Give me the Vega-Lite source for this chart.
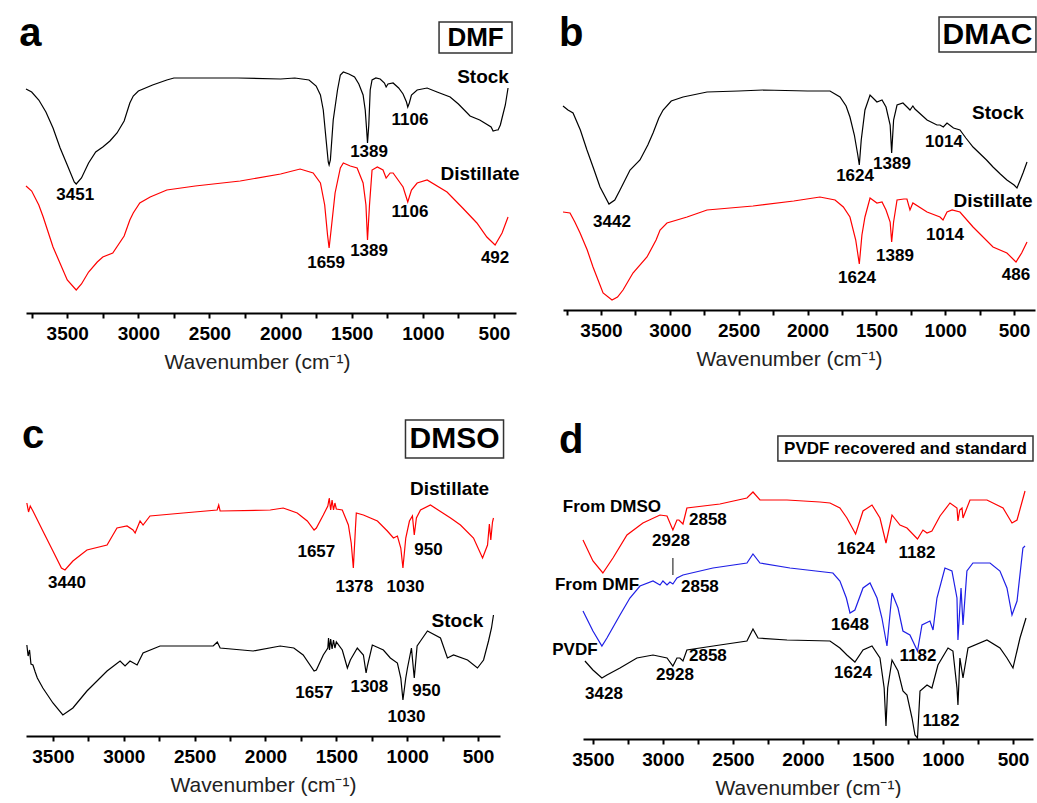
{
  "$schema": "https://vega.github.io/schema/vega-lite/v6.json",
  "padding": {"left": 19, "top": 10, "right": 0, "bottom": 0},
  "spacing": 36,
  "config": {
    "view": {"stroke": null},
    "font": "Liberation Sans",
    "axisX": {"grid": false, "domainColor": "#000", "domainWidth": 2, "tickColor": "#000", "tickWidth": 2, "tickSize": 5,
      "labelFont": "Liberation Sans", "labelFontSize": 19, "labelFontWeight": "bold", "labelColor": "#000", "labelPadding": 6,
      "labelOverlap": false, "labelFlush": false, "labelBound": false,
      "titleFont": "Liberation Sans", "titleFontSize": 21, "titleFontWeight": "normal", "titleColor": "#222", "titlePadding": 8},
    "text": {"font": "Liberation Sans", "fontWeight": "bold", "color": "#000", "baseline": "middle"},
    "line": {"strokeWidth": 1.2}
  },
  "datasets": {
    "a_spec": [
      {"s":"Stock","w":3790,"t":224},{"s":"Stock","w":3750,"t":221},{"s":"Stock","w":3700,"t":213},{"s":"Stock","w":3650,"t":201},{"s":"Stock","w":3600,"t":185},{"s":"Stock","w":3550,"t":165},{"s":"Stock","w":3500,"t":148},{"s":"Stock","w":3451,"t":131},{"s":"Stock","w":3437,"t":129},{"s":"Stock","w":3400,"t":135},{"s":"Stock","w":3350,"t":150},{"s":"Stock","w":3300,"t":161},{"s":"Stock","w":3250,"t":166},{"s":"Stock","w":3200,"t":172},{"s":"Stock","w":3150,"t":180},{"s":"Stock","w":3100,"t":192},{"s":"Stock","w":3060,"t":210},{"s":"Stock","w":3036,"t":217},{"s":"Stock","w":3000,"t":222},{"s":"Stock","w":2900,"t":228},{"s":"Stock","w":2800,"t":233},{"s":"Stock","w":2750,"t":235},{"s":"Stock","w":2500,"t":235},{"s":"Stock","w":2300,"t":235},{"s":"Stock","w":2000,"t":234},{"s":"Stock","w":1900,"t":235},{"s":"Stock","w":1800,"t":233},{"s":"Stock","w":1750,"t":227},{"s":"Stock","w":1720,"t":218},{"s":"Stock","w":1700,"t":203},{"s":"Stock","w":1680,"t":173},{"s":"Stock","w":1665,"t":151},{"s":"Stock","w":1659,"t":148},{"s":"Stock","w":1650,"t":153},{"s":"Stock","w":1630,"t":193},{"s":"Stock","w":1600,"t":223},{"s":"Stock","w":1580,"t":238},{"s":"Stock","w":1559,"t":241},{"s":"Stock","w":1520,"t":239},{"s":"Stock","w":1480,"t":236},{"s":"Stock","w":1450,"t":229},{"s":"Stock","w":1420,"t":218},{"s":"Stock","w":1405,"t":203},{"s":"Stock","w":1395,"t":183},{"s":"Stock","w":1389,"t":170},{"s":"Stock","w":1380,"t":188},{"s":"Stock","w":1370,"t":223},{"s":"Stock","w":1357,"t":233},{"s":"Stock","w":1330,"t":235},{"s":"Stock","w":1300,"t":234},{"s":"Stock","w":1270,"t":230},{"s":"Stock","w":1258,"t":226},{"s":"Stock","w":1245,"t":229},{"s":"Stock","w":1209,"t":230},{"s":"Stock","w":1170,"t":225},{"s":"Stock","w":1139,"t":219},{"s":"Stock","w":1115,"t":211},{"s":"Stock","w":1106,"t":206},{"s":"Stock","w":1095,"t":210},{"s":"Stock","w":1080,"t":218},{"s":"Stock","w":1040,"t":223},{"s":"Stock","w":970,"t":225},{"s":"Stock","w":900,"t":221},{"s":"Stock","w":808,"t":216},{"s":"Stock","w":750,"t":209},{"s":"Stock","w":668,"t":197},{"s":"Stock","w":600,"t":193},{"s":"Stock","w":577,"t":191},{"s":"Stock","w":520,"t":186},{"s":"Stock","w":506,"t":182},{"s":"Stock","w":480,"t":183},{"s":"Stock","w":471,"t":183},{"s":"Stock","w":455,"t":188},{"s":"Stock","w":443,"t":195},{"s":"Stock","w":420,"t":208},{"s":"Stock","w":401,"t":225},
      {"s":"Distillate","w":3790,"t":127},{"s":"Distillate","w":3750,"t":122},{"s":"Distillate","w":3700,"t":108},{"s":"Distillate","w":3669,"t":96},{"s":"Distillate","w":3600,"t":66},{"s":"Distillate","w":3500,"t":33},{"s":"Distillate","w":3437,"t":23},{"s":"Distillate","w":3400,"t":29},{"s":"Distillate","w":3350,"t":41},{"s":"Distillate","w":3289,"t":51},{"s":"Distillate","w":3250,"t":56},{"s":"Distillate","w":3180,"t":60},{"s":"Distillate","w":3100,"t":77},{"s":"Distillate","w":3060,"t":93},{"s":"Distillate","w":3036,"t":100},{"s":"Distillate","w":2990,"t":110},{"s":"Distillate","w":2917,"t":116},{"s":"Distillate","w":2800,"t":123},{"s":"Distillate","w":2600,"t":127},{"s":"Distillate","w":2284,"t":132},{"s":"Distillate","w":2000,"t":139},{"s":"Distillate","w":1863,"t":144},{"s":"Distillate","w":1771,"t":140},{"s":"Distillate","w":1720,"t":130},{"s":"Distillate","w":1690,"t":108},{"s":"Distillate","w":1670,"t":78},{"s":"Distillate","w":1659,"t":65},{"s":"Distillate","w":1645,"t":83},{"s":"Distillate","w":1617,"t":120},{"s":"Distillate","w":1580,"t":145},{"s":"Distillate","w":1559,"t":150},{"s":"Distillate","w":1510,"t":147},{"s":"Distillate","w":1462,"t":145},{"s":"Distillate","w":1420,"t":130},{"s":"Distillate","w":1400,"t":108},{"s":"Distillate","w":1389,"t":73},{"s":"Distillate","w":1375,"t":108},{"s":"Distillate","w":1357,"t":143},{"s":"Distillate","w":1320,"t":146},{"s":"Distillate","w":1280,"t":143},{"s":"Distillate","w":1258,"t":135},{"s":"Distillate","w":1230,"t":140},{"s":"Distillate","w":1209,"t":140},{"s":"Distillate","w":1139,"t":126},{"s":"Distillate","w":1106,"t":111},{"s":"Distillate","w":1080,"t":123},{"s":"Distillate","w":1040,"t":130},{"s":"Distillate","w":970,"t":133},{"s":"Distillate","w":830,"t":121},{"s":"Distillate","w":720,"t":105},{"s":"Distillate","w":620,"t":90},{"s":"Distillate","w":550,"t":76},{"s":"Distillate","w":492,"t":68},{"s":"Distillate","w":443,"t":80},{"s":"Distillate","w":401,"t":96}
    ],
    "b_spec": [
      {"s":"Stock","w":3776,"t":204},{"s":"Stock","w":3740,"t":200},{"s":"Stock","w":3703,"t":197},{"s":"Stock","w":3650,"t":180},{"s":"Stock","w":3602,"t":160},{"s":"Stock","w":3550,"t":140},{"s":"Stock","w":3507,"t":123},{"s":"Stock","w":3442,"t":106},{"s":"Stock","w":3400,"t":110},{"s":"Stock","w":3362,"t":120},{"s":"Stock","w":3289,"t":140},{"s":"Stock","w":3217,"t":150},{"s":"Stock","w":3160,"t":165},{"s":"Stock","w":3122,"t":177},{"s":"Stock","w":3080,"t":192},{"s":"Stock","w":3049,"t":200},{"s":"Stock","w":2990,"t":209},{"s":"Stock","w":2904,"t":213},{"s":"Stock","w":2730,"t":218},{"s":"Stock","w":2500,"t":219},{"s":"Stock","w":2324,"t":220},{"s":"Stock","w":2000,"t":219},{"s":"Stock","w":1837,"t":219},{"s":"Stock","w":1764,"t":213},{"s":"Stock","w":1720,"t":204},{"s":"Stock","w":1692,"t":193},{"s":"Stock","w":1660,"t":175},{"s":"Stock","w":1635,"t":155},{"s":"Stock","w":1624,"t":145},{"s":"Stock","w":1610,"t":170},{"s":"Stock","w":1583,"t":200},{"s":"Stock","w":1546,"t":215},{"s":"Stock","w":1510,"t":210},{"s":"Stock","w":1496,"t":208},{"s":"Stock","w":1459,"t":210},{"s":"Stock","w":1430,"t":203},{"s":"Stock","w":1400,"t":185},{"s":"Stock","w":1389,"t":157},{"s":"Stock","w":1375,"t":190},{"s":"Stock","w":1350,"t":205},{"s":"Stock","w":1307,"t":207},{"s":"Stock","w":1270,"t":202},{"s":"Stock","w":1256,"t":200},{"s":"Stock","w":1235,"t":204},{"s":"Stock","w":1220,"t":201},{"s":"Stock","w":1132,"t":190},{"s":"Stock","w":1060,"t":185},{"s":"Stock","w":1038,"t":185},{"s":"Stock","w":1014,"t":183},{"s":"Stock","w":987,"t":187},{"s":"Stock","w":940,"t":182},{"s":"Stock","w":893,"t":180},{"s":"Stock","w":850,"t":172},{"s":"Stock","w":798,"t":163},{"s":"Stock","w":700,"t":150},{"s":"Stock","w":653,"t":143},{"s":"Stock","w":600,"t":136},{"s":"Stock","w":552,"t":130},{"s":"Stock","w":500,"t":125},{"s":"Stock","w":479,"t":122},{"s":"Stock","w":455,"t":130},{"s":"Stock","w":435,"t":137},{"s":"Stock","w":406,"t":148},
      {"s":"Distillate","w":3776,"t":98},{"s":"Distillate","w":3725,"t":97},{"s":"Distillate","w":3690,"t":88},{"s":"Distillate","w":3652,"t":77},{"s":"Distillate","w":3600,"t":60},{"s":"Distillate","w":3558,"t":43},{"s":"Distillate","w":3485,"t":17},{"s":"Distillate","w":3420,"t":10},{"s":"Distillate","w":3380,"t":13},{"s":"Distillate","w":3340,"t":20},{"s":"Distillate","w":3268,"t":37},{"s":"Distillate","w":3166,"t":53},{"s":"Distillate","w":3100,"t":70},{"s":"Distillate","w":3071,"t":80},{"s":"Distillate","w":3021,"t":87},{"s":"Distillate","w":2875,"t":93},{"s":"Distillate","w":2730,"t":100},{"s":"Distillate","w":2396,"t":104},{"s":"Distillate","w":2100,"t":109},{"s":"Distillate","w":1910,"t":113},{"s":"Distillate","w":1800,"t":110},{"s":"Distillate","w":1740,"t":103},{"s":"Distillate","w":1692,"t":93},{"s":"Distillate","w":1650,"t":70},{"s":"Distillate","w":1624,"t":46},{"s":"Distillate","w":1605,"t":75},{"s":"Distillate","w":1583,"t":93},{"s":"Distillate","w":1546,"t":112},{"s":"Distillate","w":1496,"t":107},{"s":"Distillate","w":1459,"t":108},{"s":"Distillate","w":1430,"t":100},{"s":"Distillate","w":1400,"t":88},{"s":"Distillate","w":1389,"t":68},{"s":"Distillate","w":1375,"t":88},{"s":"Distillate","w":1350,"t":110},{"s":"Distillate","w":1300,"t":111},{"s":"Distillate","w":1278,"t":111},{"s":"Distillate","w":1256,"t":100},{"s":"Distillate","w":1235,"t":107},{"s":"Distillate","w":1132,"t":98},{"s":"Distillate","w":1038,"t":93},{"s":"Distillate","w":1016,"t":90},{"s":"Distillate","w":987,"t":98},{"s":"Distillate","w":950,"t":100},{"s":"Distillate","w":893,"t":98},{"s":"Distillate","w":798,"t":83},{"s":"Distillate","w":653,"t":63},{"s":"Distillate","w":552,"t":57},{"s":"Distillate","w":486,"t":48},{"s":"Distillate","w":445,"t":57},{"s":"Distillate","w":406,"t":68}
    ],
    "c_spec": [
      {"s":"Distillate","w":3684,"t":233},{"s":"Distillate","w":3672,"t":224},{"s":"Distillate","w":3660,"t":230},{"s":"Distillate","w":3641,"t":225},{"s":"Distillate","w":3571,"t":205},{"s":"Distillate","w":3500,"t":185},{"s":"Distillate","w":3440,"t":168},{"s":"Distillate","w":3415,"t":166},{"s":"Distillate","w":3359,"t":175},{"s":"Distillate","w":3260,"t":186},{"s":"Distillate","w":3118,"t":191},{"s":"Distillate","w":3048,"t":208},{"s":"Distillate","w":2977,"t":210},{"s":"Distillate","w":2935,"t":206},{"s":"Distillate","w":2920,"t":203},{"s":"Distillate","w":2885,"t":215},{"s":"Distillate","w":2864,"t":211},{"s":"Distillate","w":2815,"t":220},{"s":"Distillate","w":2581,"t":223},{"s":"Distillate","w":2341,"t":226},{"s":"Distillate","w":2330,"t":231},{"s":"Distillate","w":2320,"t":225},{"s":"Distillate","w":1966,"t":226},{"s":"Distillate","w":1875,"t":228},{"s":"Distillate","w":1776,"t":223},{"s":"Distillate","w":1705,"t":215},{"s":"Distillate","w":1657,"t":206},{"s":"Distillate","w":1641,"t":208},{"s":"Distillate","w":1592,"t":221},{"s":"Distillate","w":1560,"t":230},{"s":"Distillate","w":1550,"t":238},{"s":"Distillate","w":1540,"t":226},{"s":"Distillate","w":1530,"t":236},{"s":"Distillate","w":1520,"t":226},{"s":"Distillate","w":1510,"t":233},{"s":"Distillate","w":1500,"t":227},{"s":"Distillate","w":1458,"t":226},{"s":"Distillate","w":1415,"t":211},{"s":"Distillate","w":1395,"t":193},{"s":"Distillate","w":1380,"t":168},{"s":"Distillate","w":1365,"t":208},{"s":"Distillate","w":1359,"t":223},{"s":"Distillate","w":1309,"t":221},{"s":"Distillate","w":1210,"t":215},{"s":"Distillate","w":1140,"t":205},{"s":"Distillate","w":1097,"t":198},{"s":"Distillate","w":1069,"t":200},{"s":"Distillate","w":1045,"t":188},{"s":"Distillate","w":1030,"t":168},{"s":"Distillate","w":1010,"t":198},{"s":"Distillate","w":984,"t":215},{"s":"Distillate","w":963,"t":220},{"s":"Distillate","w":950,"t":201},{"s":"Distillate","w":935,"t":218},{"s":"Distillate","w":906,"t":226},{"s":"Distillate","w":836,"t":231},{"s":"Distillate","w":694,"t":218},{"s":"Distillate","w":624,"t":211},{"s":"Distillate","w":532,"t":198},{"s":"Distillate","w":468,"t":178},{"s":"Distillate","w":433,"t":191},{"s":"Distillate","w":420,"t":212},{"s":"Distillate","w":410,"t":196},{"s":"Distillate","w":398,"t":214},{"s":"Distillate","w":391,"t":218},
      {"s":"Stock","w":3684,"t":91},{"s":"Stock","w":3675,"t":80},{"s":"Stock","w":3665,"t":86},{"s":"Stock","w":3655,"t":72},{"s":"Stock","w":3641,"t":71},{"s":"Stock","w":3625,"t":64},{"s":"Stock","w":3610,"t":58},{"s":"Stock","w":3571,"t":48},{"s":"Stock","w":3500,"t":33},{"s":"Stock","w":3430,"t":21},{"s":"Stock","w":3359,"t":28},{"s":"Stock","w":3260,"t":45},{"s":"Stock","w":3118,"t":65},{"s":"Stock","w":3026,"t":75},{"s":"Stock","w":2991,"t":70},{"s":"Stock","w":2956,"t":75},{"s":"Stock","w":2906,"t":71},{"s":"Stock","w":2864,"t":83},{"s":"Stock","w":2744,"t":90},{"s":"Stock","w":2369,"t":90},{"s":"Stock","w":2340,"t":94},{"s":"Stock","w":2320,"t":88},{"s":"Stock","w":2087,"t":85},{"s":"Stock","w":1896,"t":90},{"s":"Stock","w":1800,"t":88},{"s":"Stock","w":1734,"t":81},{"s":"Stock","w":1657,"t":65},{"s":"Stock","w":1641,"t":66},{"s":"Stock","w":1592,"t":81},{"s":"Stock","w":1560,"t":88},{"s":"Stock","w":1555,"t":98},{"s":"Stock","w":1548,"t":86},{"s":"Stock","w":1540,"t":97},{"s":"Stock","w":1530,"t":87},{"s":"Stock","w":1520,"t":96},{"s":"Stock","w":1510,"t":88},{"s":"Stock","w":1500,"t":94},{"s":"Stock","w":1458,"t":86},{"s":"Stock","w":1422,"t":68},{"s":"Stock","w":1401,"t":76},{"s":"Stock","w":1352,"t":88},{"s":"Stock","w":1309,"t":81},{"s":"Stock","w":1290,"t":63},{"s":"Stock","w":1281,"t":70},{"s":"Stock","w":1246,"t":91},{"s":"Stock","w":1168,"t":86},{"s":"Stock","w":1119,"t":78},{"s":"Stock","w":1069,"t":73},{"s":"Stock","w":1045,"t":58},{"s":"Stock","w":1030,"t":36},{"s":"Stock","w":1010,"t":58},{"s":"Stock","w":998,"t":68},{"s":"Stock","w":970,"t":88},{"s":"Stock","w":950,"t":58},{"s":"Stock","w":930,"t":90},{"s":"Stock","w":906,"t":95},{"s":"Stock","w":857,"t":105},{"s":"Stock","w":765,"t":98},{"s":"Stock","w":716,"t":78},{"s":"Stock","w":673,"t":81},{"s":"Stock","w":574,"t":76},{"s":"Stock","w":504,"t":68},{"s":"Stock","w":461,"t":76},{"s":"Stock","w":426,"t":95},{"s":"Stock","w":405,"t":108},{"s":"Stock","w":391,"t":121}
    ],
    "d_spec": [
      {"s":"From DMSO","w":3571,"t":199},{"s":"From DMSO","w":3500,"t":178},{"s":"From DMSO","w":3429,"t":166},{"s":"From DMSO","w":3357,"t":181},{"s":"From DMSO","w":3257,"t":204},{"s":"From DMSO","w":3143,"t":216},{"s":"From DMSO","w":3021,"t":224},{"s":"From DMSO","w":2971,"t":223},{"s":"From DMSO","w":2929,"t":209},{"s":"From DMSO","w":2900,"t":219},{"s":"From DMSO","w":2886,"t":219},{"s":"From DMSO","w":2857,"t":215},{"s":"From DMSO","w":2829,"t":231},{"s":"From DMSO","w":2593,"t":235},{"s":"From DMSO","w":2400,"t":241},{"s":"From DMSO","w":2357,"t":247},{"s":"From DMSO","w":2307,"t":239},{"s":"From DMSO","w":2114,"t":239},{"s":"From DMSO","w":1879,"t":237},{"s":"From DMSO","w":1807,"t":236},{"s":"From DMSO","w":1736,"t":231},{"s":"From DMSO","w":1686,"t":221},{"s":"From DMSO","w":1624,"t":205},{"s":"From DMSO","w":1571,"t":228},{"s":"From DMSO","w":1507,"t":234},{"s":"From DMSO","w":1450,"t":221},{"s":"From DMSO","w":1407,"t":196},{"s":"From DMSO","w":1364,"t":224},{"s":"From DMSO","w":1307,"t":214},{"s":"From DMSO","w":1257,"t":211},{"s":"From DMSO","w":1182,"t":200},{"s":"From DMSO","w":1143,"t":209},{"s":"From DMSO","w":1114,"t":206},{"s":"From DMSO","w":1079,"t":208},{"s":"From DMSO","w":1021,"t":223},{"s":"From DMSO","w":950,"t":236},{"s":"From DMSO","w":900,"t":231},{"s":"From DMSO","w":893,"t":218},{"s":"From DMSO","w":880,"t":229},{"s":"From DMSO","w":864,"t":231},{"s":"From DMSO","w":857,"t":221},{"s":"From DMSO","w":807,"t":239},{"s":"From DMSO","w":686,"t":239},{"s":"From DMSO","w":571,"t":231},{"s":"From DMSO","w":507,"t":216},{"s":"From DMSO","w":471,"t":219},{"s":"From DMSO","w":414,"t":248},
      {"s":"From DMF","w":3571,"t":128},{"s":"From DMF","w":3500,"t":108},{"s":"From DMF","w":3436,"t":93},{"s":"From DMF","w":3400,"t":101},{"s":"From DMF","w":3307,"t":124},{"s":"From DMF","w":3236,"t":141},{"s":"From DMF","w":3164,"t":153},{"s":"From DMF","w":3071,"t":158},{"s":"From DMF","w":3021,"t":154},{"s":"From DMF","w":3000,"t":158},{"s":"From DMF","w":2971,"t":154},{"s":"From DMF","w":2950,"t":157},{"s":"From DMF","w":2929,"t":155},{"s":"From DMF","w":2900,"t":161},{"s":"From DMF","w":2857,"t":164},{"s":"From DMF","w":2643,"t":171},{"s":"From DMF","w":2400,"t":176},{"s":"From DMF","w":2357,"t":185},{"s":"From DMF","w":2307,"t":176},{"s":"From DMF","w":2093,"t":171},{"s":"From DMF","w":1786,"t":166},{"s":"From DMF","w":1736,"t":158},{"s":"From DMF","w":1690,"t":141},{"s":"From DMF","w":1664,"t":126},{"s":"From DMF","w":1629,"t":129},{"s":"From DMF","w":1571,"t":151},{"s":"From DMF","w":1521,"t":156},{"s":"From DMF","w":1471,"t":141},{"s":"From DMF","w":1436,"t":121},{"s":"From DMF","w":1400,"t":93},{"s":"From DMF","w":1364,"t":146},{"s":"From DMF","w":1321,"t":131},{"s":"From DMF","w":1286,"t":108},{"s":"From DMF","w":1236,"t":104},{"s":"From DMF","w":1182,"t":88},{"s":"From DMF","w":1150,"t":114},{"s":"From DMF","w":1093,"t":118},{"s":"From DMF","w":1071,"t":109},{"s":"From DMF","w":1043,"t":141},{"s":"From DMF","w":986,"t":171},{"s":"From DMF","w":936,"t":168},{"s":"From DMF","w":900,"t":141},{"s":"From DMF","w":893,"t":99},{"s":"From DMF","w":871,"t":151},{"s":"From DMF","w":857,"t":114},{"s":"From DMF","w":829,"t":168},{"s":"From DMF","w":786,"t":176},{"s":"From DMF","w":664,"t":176},{"s":"From DMF","w":593,"t":168},{"s":"From DMF","w":543,"t":151},{"s":"From DMF","w":507,"t":124},{"s":"From DMF","w":471,"t":138},{"s":"From DMF","w":429,"t":191},{"s":"From DMF","w":414,"t":193},
      {"s":"PVDF","w":3557,"t":78},{"s":"PVDF","w":3500,"t":69},{"s":"PVDF","w":3436,"t":61},{"s":"PVDF","w":3400,"t":64},{"s":"PVDF","w":3307,"t":71},{"s":"PVDF","w":3186,"t":81},{"s":"PVDF","w":3071,"t":84},{"s":"PVDF","w":2971,"t":81},{"s":"PVDF","w":2929,"t":73},{"s":"PVDF","w":2900,"t":81},{"s":"PVDF","w":2879,"t":81},{"s":"PVDF","w":2857,"t":78},{"s":"PVDF","w":2829,"t":89},{"s":"PVDF","w":2593,"t":94},{"s":"PVDF","w":2400,"t":98},{"s":"PVDF","w":2357,"t":110},{"s":"PVDF","w":2321,"t":101},{"s":"PVDF","w":2114,"t":99},{"s":"PVDF","w":1807,"t":98},{"s":"PVDF","w":1736,"t":91},{"s":"PVDF","w":1686,"t":84},{"s":"PVDF","w":1629,"t":77},{"s":"PVDF","w":1571,"t":89},{"s":"PVDF","w":1507,"t":93},{"s":"PVDF","w":1450,"t":81},{"s":"PVDF","w":1420,"t":51},{"s":"PVDF","w":1407,"t":13},{"s":"PVDF","w":1395,"t":51},{"s":"PVDF","w":1364,"t":79},{"s":"PVDF","w":1321,"t":68},{"s":"PVDF","w":1286,"t":48},{"s":"PVDF","w":1257,"t":44},{"s":"PVDF","w":1221,"t":21},{"s":"PVDF","w":1200,"t":4},{"s":"PVDF","w":1182,"t":1},{"s":"PVDF","w":1164,"t":48},{"s":"PVDF","w":1114,"t":54},{"s":"PVDF","w":1079,"t":51},{"s":"PVDF","w":1036,"t":74},{"s":"PVDF","w":964,"t":91},{"s":"PVDF","w":929,"t":88},{"s":"PVDF","w":900,"t":51},{"s":"PVDF","w":893,"t":34},{"s":"PVDF","w":879,"t":81},{"s":"PVDF","w":857,"t":61},{"s":"PVDF","w":821,"t":91},{"s":"PVDF","w":686,"t":99},{"s":"PVDF","w":593,"t":91},{"s":"PVDF","w":543,"t":81},{"s":"PVDF","w":500,"t":71},{"s":"PVDF","w":450,"t":101},{"s":"PVDF","w":407,"t":121}
    ]
  },
  "vconcat": [
    {
      "bounds": "flush",
      "spacing": 47,
      "hconcat": [
        {
          "width": 490, "height": 303,
          "encoding": {
            "x": {"field": "w", "type": "quantitative", "scale": {"domain": [345, 3790], "reverse": true, "nice": false, "zero": false},
              "axis": {"title": "Wavenumber (cm⁻¹)", "titleX": 231, "values": [500,750,1000,1250,1500,1750,2000,2250,2500,2750,3000,3250,3500,3750], "labelExpr": "datum.value % 500 === 0 ? datum.label : ''", "format": "d"}},
            "y": {"field": "t", "type": "quantitative", "scale": {"domain": [0, 303], "nice": false, "zero": false}, "axis": null}
          },
          "layer": [
            {"data": {"name": "a_spec"}, "mark": {"type": "line"},
              "encoding": {"color": {"field": "s", "type": "nominal", "scale": {"domain": ["Stock", "Distillate", "From DMSO", "From DMF", "PVDF"], "range": ["#000000", "#ff0000", "#ff0000", "#1f1fe6", "#000000"]}, "legend": null}}},
            {"data": {"values": [{"w": 886, "w2": 373, "t": 291, "t2": 260}]}, "mark": {"type": "rect", "fill": "white", "stroke": "#333", "strokeWidth": 1.5},
              "encoding": {"x2": {"field": "w2"}, "y2": {"field": "t2"}}},
            {"data": {"values": [{"w": 629.5, "t": 275.5, "text": "DMF"}]}, "mark": {"type": "text", "fontSize": 26}, "encoding": {"text": {"field": "text"}}},
            {"data": {"values": [{"w": 3837, "t": 279, "text": "a"}]}, "mark": {"type": "text", "fontSize": 40, "align": "left"}, "encoding": {"text": {"field": "text"}}},
            {"data": {"values": [{"w": 577, "t": 236, "text": "Stock"}, {"w": 598, "t": 139, "text": "Distillate"}]}, "mark": {"type": "text", "fontSize": 19}, "encoding": {"text": {"field": "text"}}},
            {"data": {"values": [{"w": 3444, "t": 118, "text": "3451"}, {"w": 1378, "t": 161, "text": "1389"}, {"w": 1090, "t": 193, "text": "1106"}, {"w": 1680, "t": 50, "text": "1659"}, {"w": 1378, "t": 62, "text": "1389"}, {"w": 1090, "t": 101, "text": "1106"}, {"w": 492, "t": 55, "text": "492"}]},
              "mark": {"type": "text", "fontSize": 17}, "encoding": {"text": {"field": "text"}}}
          ]
        },
        {
          "width": 472, "height": 300,
          "encoding": {
            "x": {"field": "w", "type": "quantitative", "scale": {"domain": [348, 3776], "reverse": true, "nice": false, "zero": false},
              "axis": {"title": "Wavenumber (cm⁻¹)", "titleX": 226, "values": [500,750,1000,1250,1500,1750,2000,2250,2500,2750,3000,3250,3500,3750], "labelExpr": "datum.value % 500 === 0 ? datum.label : ''", "format": "d"}},
            "y": {"field": "t", "type": "quantitative", "scale": {"domain": [0, 300], "nice": false, "zero": false}, "axis": null}
          },
          "layer": [
            {"data": {"name": "b_spec"}, "mark": {"type": "line"},
              "encoding": {"color": {"field": "s", "type": "nominal", "scale": {"domain": ["Stock", "Distillate", "From DMSO", "From DMF", "PVDF"], "range": ["#000000", "#ff0000", "#ff0000", "#1f1fe6", "#000000"]}, "legend": null}}},
            {"data": {"values": [{"w": 1045, "w2": 341, "t": 293, "t2": 258}]}, "mark": {"type": "rect", "fill": "white", "stroke": "#333", "strokeWidth": 1.5},
              "encoding": {"x2": {"field": "w2"}, "y2": {"field": "t2"}}},
            {"data": {"values": [{"w": 693, "t": 275.5, "text": "DMAC"}]}, "mark": {"type": "text", "fontSize": 30}, "encoding": {"text": {"field": "text"}}},
            {"data": {"values": [{"w": 3805, "t": 276, "text": "b"}]}, "mark": {"type": "text", "fontSize": 40, "align": "left"}, "encoding": {"text": {"field": "text"}}},
            {"data": {"values": [{"w": 617, "t": 197, "text": "Stock"}, {"w": 653, "t": 109, "text": "Distillate"}]}, "mark": {"type": "text", "fontSize": 19}, "encoding": {"text": {"field": "text"}}},
            {"data": {"values": [{"w": 3420, "t": 88, "text": "3442"}, {"w": 1655, "t": 134, "text": "1624"}, {"w": 1387, "t": 146, "text": "1389"}, {"w": 1009, "t": 168, "text": "1014"}, {"w": 1002, "t": 75, "text": "1014"}, {"w": 1365, "t": 54, "text": "1389"}, {"w": 1641, "t": 32, "text": "1624"}, {"w": 486, "t": 35, "text": "486"}]},
              "mark": {"type": "text", "fontSize": 17}, "encoding": {"text": {"field": "text"}}}
          ]
        }
      ]
    },
    {
      "bounds": "flush",
      "spacing": 83,
      "hconcat": [
        {
          "width": 474, "height": 328,
          "encoding": {
            "x": {"field": "w", "type": "quantitative", "scale": {"domain": [345, 3690], "reverse": true, "nice": false, "zero": false},
              "axis": {"title": "Wavenumber (cm⁻¹)", "values": [500,750,1000,1250,1500,1750,2000,2250,2500,2750,3000,3250,3500], "labelExpr": "datum.value % 500 === 0 ? datum.label : ''", "format": "d"}},
            "y": {"field": "t", "type": "quantitative", "scale": {"domain": [0, 328], "nice": false, "zero": false}, "axis": null}
          },
          "layer": [
            {"data": {"name": "c_spec"}, "mark": {"type": "line"},
              "encoding": {"color": {"field": "s", "type": "nominal", "scale": {"domain": ["Stock", "Distillate", "From DMSO", "From DMF", "PVDF"], "range": ["#000000", "#ff0000", "#ff0000", "#1f1fe6", "#000000"]}, "legend": null}}},
            {"data": {"values": [{"w": 1012, "w2": 320, "t": 316, "t2": 278}]}, "mark": {"type": "rect", "fill": "white", "stroke": "#333", "strokeWidth": 1.5},
              "encoding": {"x2": {"field": "w2"}, "y2": {"field": "t2"}}},
            {"data": {"values": [{"w": 666, "t": 297, "text": "DMSO"}]}, "mark": {"type": "text", "fontSize": 30}, "encoding": {"text": {"field": "text"}}},
            {"data": {"values": [{"w": 3719, "t": 300, "text": "c"}]}, "mark": {"type": "text", "fontSize": 40, "align": "left"}, "encoding": {"text": {"field": "text"}}},
            {"data": {"values": [{"w": 701, "t": 247, "text": "Distillate"}, {"w": 645, "t": 115, "text": "Stock"}]}, "mark": {"type": "text", "fontSize": 19}, "encoding": {"text": {"field": "text"}}},
            {"data": {"values": [{"w": 3401, "t": 153, "text": "3440"}, {"w": 1641, "t": 184, "text": "1657"}, {"w": 1373, "t": 149, "text": "1378"}, {"w": 1012, "t": 149, "text": "1030"}, {"w": 850, "t": 186, "text": "950"}, {"w": 1656, "t": 43, "text": "1657"}, {"w": 1267, "t": 49, "text": "1308"}, {"w": 864, "t": 45, "text": "950"}, {"w": 1005, "t": 19, "text": "1030"}]},
              "mark": {"type": "text", "fontSize": 17}, "encoding": {"text": {"field": "text"}}}
          ]
        },
        {
          "width": 450, "height": 331,
          "encoding": {
            "x": {"field": "w", "type": "quantitative", "scale": {"domain": [357, 3571], "reverse": true, "nice": false, "zero": false},
              "axis": {"title": "Wavenumber (cm⁻¹)", "values": [500,750,1000,1250,1500,1750,2000,2250,2500,2750,3000,3250,3500], "labelExpr": "datum.value % 500 === 0 ? datum.label : ''", "format": "d"}},
            "y": {"field": "t", "type": "quantitative", "scale": {"domain": [0, 331], "nice": false, "zero": false}, "axis": null}
          },
          "layer": [
            {"data": {"name": "d_spec"}, "mark": {"type": "line"},
              "encoding": {"color": {"field": "s", "type": "nominal", "scale": {"domain": ["Stock", "Distillate", "From DMSO", "From DMF", "PVDF"], "range": ["#000000", "#ff0000", "#ff0000", "#1f1fe6", "#000000"]}, "legend": null}}},
            {"data": {"values": [{"w": 2929, "t": 164, "t2": 181}]}, "mark": {"type": "rule", "stroke": "#333", "strokeWidth": 1.2},
              "encoding": {"y2": {"field": "t2"}}},
            {"data": {"values": [{"w": 2179, "w2": 357, "t": 303, "t2": 278}]}, "mark": {"type": "rect", "fill": "white", "stroke": "#333", "strokeWidth": 1.5},
              "encoding": {"x2": {"field": "w2"}, "y2": {"field": "t2"}}},
            {"data": {"values": [{"w": 1268, "t": 290.5, "text": "PVDF recovered and standard"}]}, "mark": {"type": "text", "fontSize": 17}, "encoding": {"text": {"field": "text"}}},
            {"data": {"values": [{"w": 3743, "t": 298, "text": "d"}]}, "mark": {"type": "text", "fontSize": 40, "align": "left"}, "encoding": {"text": {"field": "text"}}},
            {"data": {"values": [{"w": 3364, "t": 232, "text": "From DMSO"}, {"w": 3471, "t": 154, "text": "From DMF"}, {"w": 3629, "t": 89, "text": "PVDF"}, {"w": 2943, "t": 198, "text": "2928"}, {"w": 2679, "t": 219, "text": "2858"}, {"w": 1621, "t": 190, "text": "1624"}, {"w": 1186, "t": 186, "text": "1182"}, {"w": 2736, "t": 152, "text": "2858"}, {"w": 1664, "t": 114, "text": "1648"}, {"w": 1179, "t": 83, "text": "1182"}, {"w": 2679, "t": 83, "text": "2858"}, {"w": 2914, "t": 64, "text": "2928"}, {"w": 3421, "t": 45, "text": "3428"}, {"w": 1643, "t": 66, "text": "1624"}, {"w": 1014, "t": 18, "text": "1182"}]},
              "mark": {"type": "text", "fontSize": 17}, "encoding": {"text": {"field": "text"}}}
          ]
        }
      ]
    }
  ]
}
